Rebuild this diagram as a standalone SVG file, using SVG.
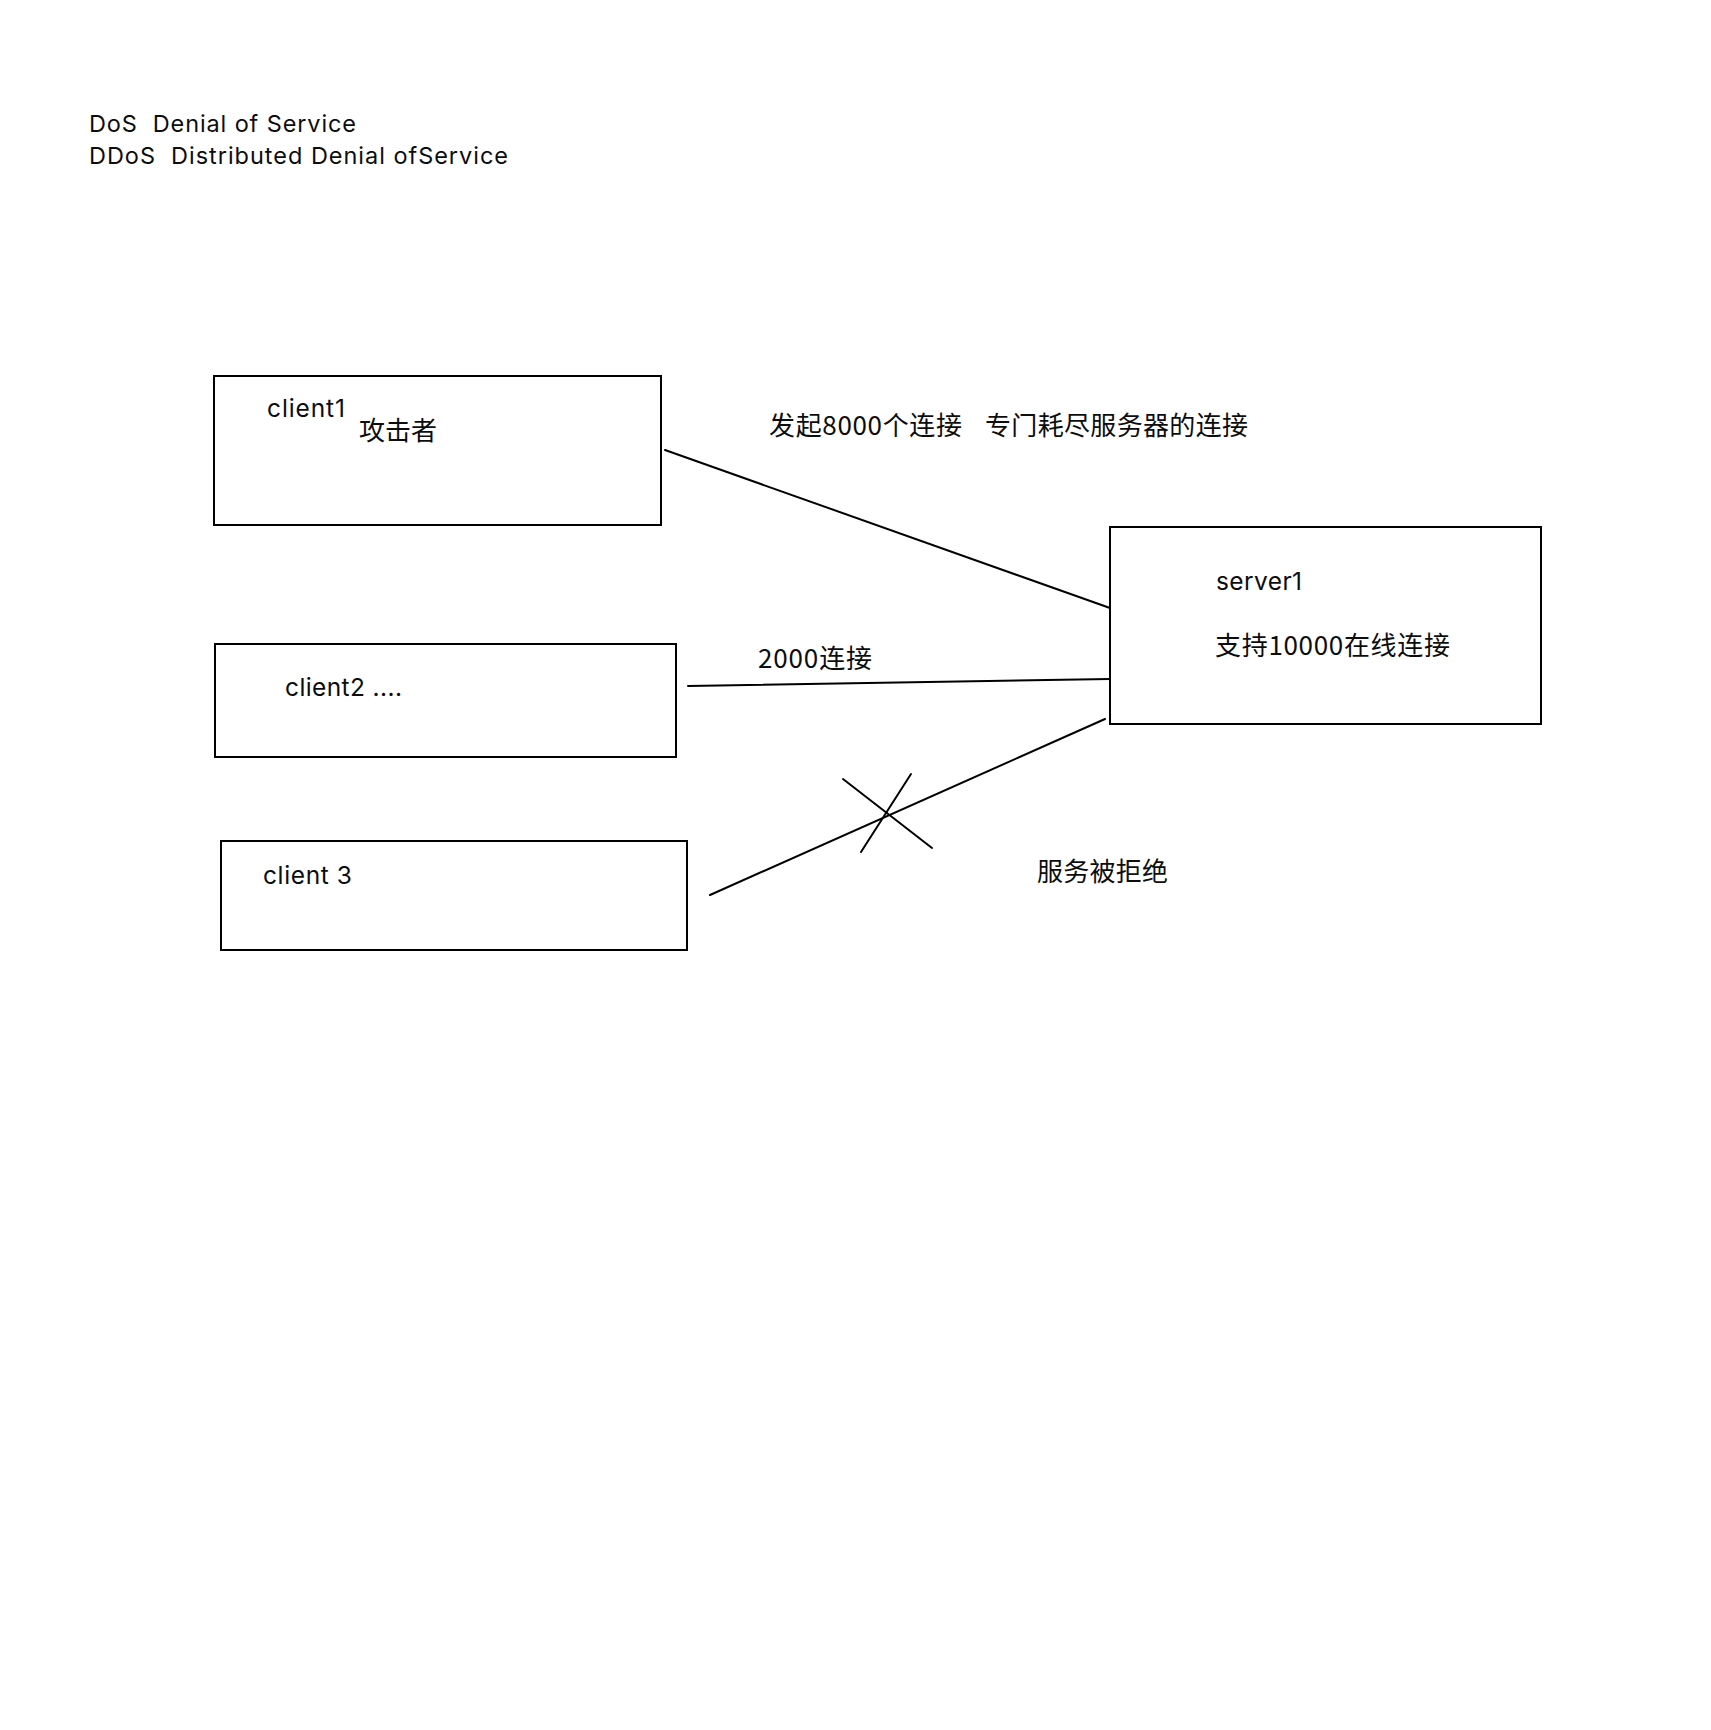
<svg xmlns="http://www.w3.org/2000/svg" width="1711" height="1730" viewBox="0 0 1711 1730">
  <style>
    .box { fill: #ffffff; stroke: #000000; stroke-width: 2; }
    .link { stroke: #000000; stroke-width: 2; fill: none; stroke-linecap: round; }
    .lat { font-family: Inter, "Liberation Sans", Arial, sans-serif; fill: #0d0d0d; }
    .cjk { font-family: "Noto Sans CJK SC", "Liberation Sans", sans-serif; fill: #0d0d0d; font-size: 26px; }
  </style>
  <rect width="1711" height="1730" fill="#ffffff"/>

  <!-- heading notes -->
  <g id="title">
    <text class="lat" x="89" y="132" font-size="23.5" xml:space="preserve" textLength="267" lengthAdjust="spacing">DoS  Denial of Service</text>
    <text class="lat" x="89" y="164" font-size="23.5" xml:space="preserve" textLength="419" lengthAdjust="spacing">DDoS  Distributed Denial ofService</text>
  </g>

  <!-- connectors -->
  <g id="connectors">
    <line class="link" x1="665" y1="450" x2="1110" y2="608"/>
    <line class="link" x1="688" y1="686" x2="1110" y2="679"/>
    <line class="link" x1="710" y1="895" x2="1105" y2="719"/>
    <!-- cross on the refused connection -->
    <line class="link" x1="843" y1="779" x2="932" y2="848"/>
    <line class="link" x1="911" y1="774" x2="861" y2="852"/>
  </g>

  <g id="client1">
    <rect class="box" x="214" y="376" width="447" height="149"/>
    <text class="lat" x="267" y="417" font-size="24.5" textLength="78" lengthAdjust="spacing">client1</text>
    <text class="cjk" x="359" y="440" font-size="25" textLength="78" lengthAdjust="spacing">攻击者</text>
  </g>

  <g id="client2">
    <rect class="box" x="215" y="644" width="461" height="113"/>
    <text class="lat" x="285" y="696" font-size="24.5" textLength="117" lengthAdjust="spacing">client2 ....</text>
  </g>

  <g id="client3">
    <rect class="box" x="221" y="841" width="466" height="109"/>
    <text class="lat" x="263" y="884" font-size="24.5" textLength="89" lengthAdjust="spacing">client 3</text>
  </g>

  <g id="server1">
    <rect class="box" x="1110" y="527" width="431" height="197"/>
    <text class="lat" x="1216" y="590" font-size="24.5" textLength="86" lengthAdjust="spacing">server1</text>
    <text class="cjk" x="1215" y="655" textLength="235" lengthAdjust="spacing">支持10000在线连接</text>
  </g>

  <!-- connection labels -->
  <g id="label-attack">
    <text class="cjk" x="769" y="435" textLength="193" lengthAdjust="spacing">发起8000个连接</text>
    <text class="cjk" x="985" y="435" textLength="263" lengthAdjust="spacing">专门耗尽服务器的连接</text>
  </g>
  <g id="label-normal">
    <text class="cjk" x="758" y="668" textLength="114" lengthAdjust="spacing">2000连接</text>
  </g>
  <g id="label-refused">
    <text class="cjk" x="1037" y="881" textLength="131" lengthAdjust="spacing">服务被拒绝</text>
  </g>
</svg>
